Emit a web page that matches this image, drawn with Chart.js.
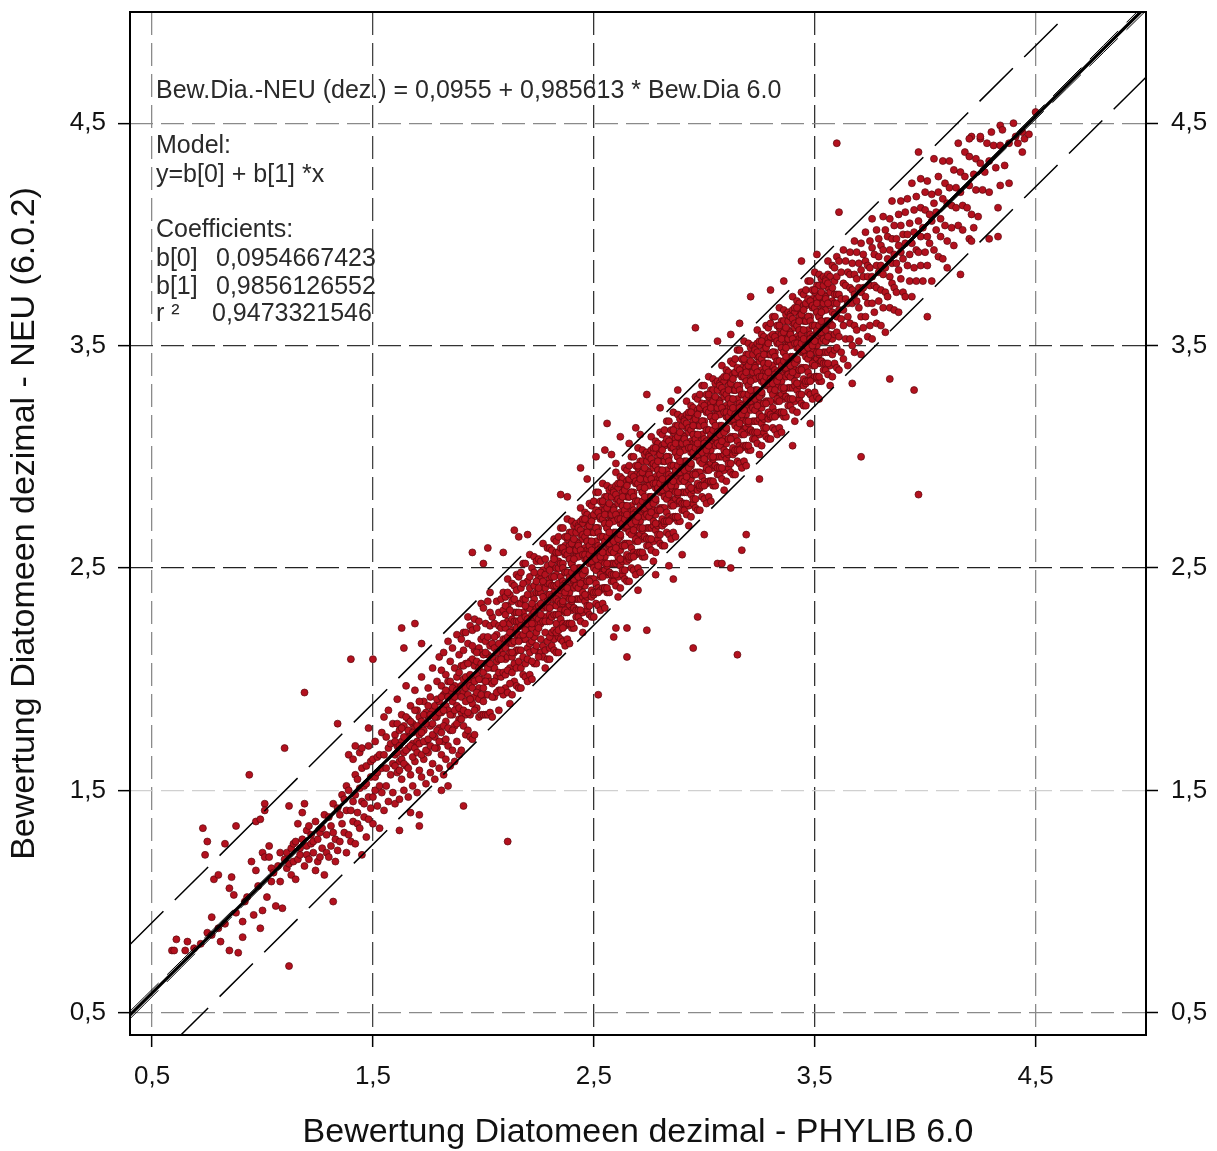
<!DOCTYPE html>
<html>
<head>
<meta charset="utf-8">
<script src="https://cdn.jsdelivr.net/npm/chart.js@4.4.0/dist/chart.umd.min.js"></script>
<style>
  html, body { margin: 0; padding: 0; background: #fff; }
  canvas { display: block; }
</style>
</head>
<body>
<canvas id="chart" width="1217" height="1151"></canvas>
<script>
// ================= Data =================
const axisTicks = [0.5, 1.5, 2.5, 3.5, 4.5];
const xTitle = 'Bewertung Diatomeen dezimal - PHYLIB 6.0';
const yTitle = 'Bewertung Diatomeen dezimal - NEU (6.0.2)';

// lower tail, x < 1.55
const tailPts = [
  [0.59,0.78],[0.60,0.78],[0.61,0.83],[0.65,0.78],[0.66,0.82],[0.69,0.79],[0.72,0.81],[0.73,1.33],[0.74,1.21],[0.75,0.86],
  [0.75,1.27],[0.77,0.85],[0.77,0.93],[0.78,1.10],[0.80,1.12],[0.80,0.88],[0.81,0.82],[0.83,1.26],[0.83,0.90],[0.85,0.78],
  [0.85,1.06],[0.86,1.11],[0.87,1.03],[0.88,1.34],[0.88,0.95],[0.89,0.77],[0.91,0.91],[0.91,0.84],[0.92,1.00],[0.93,1.02],
  [0.95,1.18],[0.96,0.94],[0.97,1.14],[0.97,1.36],[0.98,1.07],[0.99,1.37],[0.99,0.88],[1.00,0.96],[1.00,1.22],[1.01,1.44],
  [1.01,1.41],[1.01,1.20],[1.02,1.02],[1.03,1.25],[1.03,1.20],[1.04,1.15],[1.04,1.09],[1.05,1.13],[1.06,0.98],[1.07,1.16],
  [1.08,1.09],[1.08,1.22],[1.09,0.97],[1.10,1.19],[1.11,1.15],[1.11,1.22],[1.12,1.43],[1.12,1.17],[1.13,1.12],[1.13,1.24],
  [1.14,1.18],[1.14,1.26],[1.15,1.10],[1.15,1.27],[1.16,1.35],[1.16,1.19],[1.17,1.21],[1.17,1.24],[1.18,1.40],[1.18,1.28],
  [1.19,1.44],[1.19,1.16],[1.20,1.25],[1.20,1.32],[1.20,1.21],[1.21,1.19],[1.21,1.34],[1.22,1.30],[1.22,1.26],[1.23,1.22],
  [1.23,1.27],[1.24,1.14],[1.24,1.36],[1.25,1.28],[1.25,1.18],[1.26,1.20],[1.26,1.31],[1.27,1.33],[1.27,1.24],[1.28,1.12],
  [1.28,1.39],[1.29,1.22],[1.29,1.30],[1.30,1.38],[1.30,1.20],[1.31,1.25],[1.31,1.34],[1.32,1.31],[1.32,1.44],[1.33,1.18],
  [1.33,1.28],[1.34,1.42],[1.34,1.23],[1.35,1.27],[1.35,1.39],[1.36,1.35],[1.36,1.48],[1.37,1.46],[1.37,1.31],[1.38,1.22],
  [1.38,1.52],[1.38,1.41],[1.39,1.30],[1.39,1.66],[1.39,1.50],[1.40,1.41],[1.40,1.27],[1.41,1.64],[1.41,1.36],[1.41,1.45],
  [1.42,1.48],[1.42,1.26],[1.42,1.57],[1.42,1.70],[1.43,1.55],[1.43,1.40],[1.43,1.35],[1.44,1.67],[1.44,1.33],[1.44,1.51],
  [1.45,1.45],[1.45,1.21],[1.45,1.60],[1.45,1.69],[1.46,1.52],[1.46,1.38],[1.46,1.44],[1.47,1.61],[1.47,1.29],[1.47,1.53],
  [1.48,1.47],[1.48,1.70],[1.48,1.37],[1.48,1.78],[1.49,1.42],[1.49,1.56],[1.49,1.63],[1.50,1.35],[1.50,1.64],[1.50,1.47],
  [1.51,1.50],[1.51,1.72],[1.51,1.56],[1.52,1.43],[1.52,1.58],[1.52,1.65],[1.53,1.33],[1.53,1.66],[1.53,1.52],[1.54,1.49],
  [1.54,1.76],[1.54,1.60]
];

// x 1.55 - 2.29 : [x, [y ...]]
const rampCols = [
  [1.55,[1.41,1.66,1.83]],[1.56,[1.52,1.60,1.74]],[1.57,[1.45,1.69,1.86]],[1.58,[1.57,1.71]],[1.59,[1.49,1.62,1.80]],
  [1.60,[1.44,1.66,1.75]],[1.61,[1.58,1.70,1.91]],[1.62,[1.46,1.63,1.77]],[1.63,[1.55,1.72,1.84]],[1.64,[1.50,1.67,1.79]],
  [1.65,[1.61,1.74,1.97]],[1.66,[1.47,1.69,1.82]],[1.67,[1.57,1.76,1.88]],[1.68,[1.52,1.71,1.80]],[1.69,[1.63,1.78,1.95]],
  [1.70,[1.49,1.72,1.86]],[1.71,[1.59,1.75,1.83]],[1.72,[1.56,1.81,2.01]],[1.73,[1.64,1.77,1.90]],[1.74,[1.53,1.72,1.85]],
  [1.75,[1.67,1.83,1.96]],[1.76,[1.58,1.79,1.92]],[1.77,[1.62,1.86,2.05]],[1.78,[1.55,1.74,1.88]],[1.79,[1.69,1.83,1.99]],
  [1.80,[1.60,1.78,1.90,2.10]],[1.81,[1.66,1.85,1.97,2.04]],[1.82,[1.57,1.72,1.93,2.12]],[1.83,[1.64,1.81,1.88,2.02]],
  [1.84,[1.70,1.86,1.99,2.17]],[1.85,[1.61,1.77,1.94,2.08]],[1.86,[1.68,1.84,1.90,2.14]],[1.87,[1.63,1.79,1.97,2.05]],
  [1.88,[1.72,1.88,2.01,2.20]],[1.89,[1.66,1.82,1.93,2.11]],
  [1.90,[1.68,1.85,1.97,2.06,2.18]],[1.91,[1.79,1.94,2.00,2.13,2.21]],[1.92,[1.75,1.84,1.96,2.07,2.21]],
  [1.93,[1.77,1.93,1.99,2.16,2.28]],[1.94,[1.74,1.84,1.97,2.08,2.24]],[1.95,[1.73,1.89,2.01,2.09,2.22]],
  [1.96,[1.75,1.92,2.06,2.13,2.27]],[1.97,[1.87,2.02,2.08,2.23]],[1.98,[1.83,1.96,2.05,2.14,2.26]],
  [1.99,[1.84,2.00,2.12,2.18,2.34]],[2.00,[1.84,1.96,2.03,2.19,2.32]],[2.01,[1.84,1.93,2.07,2.17,2.25]],
  [2.02,[1.84,2.01,2.11,2.19,2.35]],[2.03,[1.85,1.99,2.15,2.24,2.39]],[2.04,[1.83,1.98,2.05,2.16,2.28]],
  [2.05,[1.92,2.05,2.14,2.25]],[2.06,[2.01,2.08,2.20,2.35]],[2.07,[1.86,1.95,2.09,2.24,2.30]],
  [2.08,[2.01,2.13,2.23,2.36]],[2.09,[1.93,2.11,2.18,2.31,2.39]],
  [2.10,[1.96,2.09,2.18,2.23,2.29,2.37]],[2.11,[1.94,2.10,2.16,2.26,2.33,2.45]],[2.12,[1.89,2.05,2.12,2.17,2.25,2.38]],
  [2.13,[1.93,2.10,2.16,2.22,2.27,2.43]],[2.14,[1.99,2.12,2.21,2.26,2.30,2.42]],[2.15,[1.97,2.13,2.20,2.26,2.30,2.47]],
  [2.16,[1.96,2.13,2.20,2.26,2.34,2.46]],[2.17,[1.96,2.13,2.19,2.27,2.34,2.48]],[2.18,[2.02,2.18,2.24,2.30,2.36,2.52]],
  [2.19,[2.01,2.18,2.25,2.28,2.36,2.52]],[2.20,[1.99,2.14,2.21,2.27,2.32,2.44]],[2.21,[2.02,2.16,2.24,2.32,2.41,2.56]],
  [2.22,[2.00,2.17,2.23,2.29,2.38,2.50]],[2.23,[2.07,2.19,2.26,2.36,2.42,2.55]],[2.24,[2.07,2.25,2.28,2.32,2.39,2.53]],
  [2.25,[2.12,2.27,2.33,2.39,2.46,2.54]],[2.26,[2.12,2.25,2.34,2.39,2.45,2.53]],[2.27,[2.10,2.26,2.32,2.42,2.49,2.61]],
  [2.28,[2.05,2.21,2.28,2.33,2.41,2.54]],[2.29,[2.09,2.26,2.32,2.38,2.43,2.59]]
];

// extra points near the line in the ramp, x 1.60 - 2.35
const rampFill = [
  [1.60,[1.61,1.72]],[1.61,[1.67,1.80]],[1.62,[1.59,1.70]],[1.63,[1.64,1.78]],[1.64,[1.62,1.74]],[1.65,[1.68,1.83]],
  [1.66,[1.60,1.77]],[1.67,[1.70,1.81]],[1.68,[1.65,1.76]],[1.69,[1.69,1.86]],[1.70,[1.67,1.79]],[1.71,[1.71,1.90]],
  [1.72,[1.66,1.76]],[1.73,[1.72,1.84]],[1.74,[1.68,1.80]],[1.75,[1.73,1.88]],[1.76,[1.70,1.84]],[1.77,[1.75,1.80]],
  [1.78,[1.69,1.83]],[1.79,[1.77,1.91]],[1.80,[1.72,1.85]],[1.81,[1.76,1.92]],[1.82,[1.79,1.86]],[1.83,[1.73,1.95]],
  [1.84,[1.78,1.92]],[1.85,[1.84,1.99]],[1.86,[1.77,1.96]],[1.87,[1.86,1.92]],[1.88,[1.80,1.95]],[1.89,[1.87,2.03]],
  [1.90,[1.82,1.92]],[1.91,[1.86,2.06]],[1.92,[1.90,2.01]],[1.93,[1.85,2.07]],[1.94,[1.91,2.02]],[1.95,[1.96,2.15]],
  [1.96,[1.86,1.99]],[1.97,[1.94,2.12]],[1.98,[1.91,2.00]],[1.99,[1.93,2.07]],[2.00,[1.90,2.11]],[2.01,[1.99,2.12]],
  [2.02,[1.93,2.05]],[2.03,[2.07,2.30]],[2.04,[1.92,2.10]],[2.05,[1.99,2.19]],[2.06,[1.94,2.12]],[2.07,[2.03,2.16]],
  [2.08,[1.95,2.09]],[2.09,[2.03,2.25]],
  [2.10,[2.02,2.14,2.33]],[2.11,[2.04,2.19,2.39]],[2.12,[1.98,2.21,2.31]],[2.13,[2.03,2.12,2.35]],[2.14,[2.07,2.17,2.36]],
  [2.15,[2.05,2.23,2.40]],[2.16,[2.08,2.17,2.30]],[2.17,[2.05,2.24,2.41]],[2.18,[2.10,2.20,2.43]],[2.19,[2.07,2.22,2.33]],
  [2.20,[2.09,2.25,2.38]],[2.21,[2.12,2.20,2.46]],[2.22,[2.08,2.25,2.34]],[2.23,[2.13,2.30,2.48]],[2.24,[2.15,2.21,2.44]],
  [2.25,[2.10,2.23,2.41]],[2.26,[2.18,2.29,2.48]],[2.27,[2.15,2.37,2.44]],[2.28,[2.13,2.26,2.47]],[2.29,[2.17,2.35,2.51]],
  [2.30,[2.14,2.29,2.45]],[2.31,[2.20,2.33,2.50]],[2.32,[2.18,2.39,2.55]],[2.33,[2.25,2.33,2.47]],[2.34,[2.19,2.38,2.53]],
  [2.35,[2.23,2.31,2.50]]
];

// dense core, x 2.30 - 3.60
const coreCols = [
  [2.30,[2.09,2.19,2.26,2.32,2.38,2.43,2.49,2.59]],[2.31,[2.15,2.21,2.28,2.37,2.42,2.46,2.52,2.58]],
  [2.32,[2.13,2.22,2.29,2.36,2.42,2.46,2.54,2.63]],[2.33,[2.12,2.21,2.29,2.36,2.42,2.50,2.57,2.62]],
  [2.34,[2.12,2.22,2.29,2.35,2.43,2.50,2.57,2.64]],[2.35,[2.18,2.27,2.34,2.40,2.46,2.52,2.59,2.68]],
  [2.36,[2.17,2.25,2.34,2.41,2.44,2.52,2.58,2.68]],[2.37,[2.15,2.24,2.30,2.37,2.43,2.48,2.56,2.60]],
  [2.38,[2.18,2.25,2.32,2.40,2.48,2.57,2.63,2.72]],[2.39,[2.16,2.25,2.33,2.39,2.45,2.54,2.60,2.66]],
  [2.40,[2.23,2.31,2.35,2.42,2.52,2.58,2.66,2.71]],[2.41,[2.23,2.32,2.41,2.44,2.48,2.55,2.61,2.69]],
  [2.42,[2.28,2.36,2.43,2.49,2.55,2.62,2.70]],[2.43,[2.28,2.36,2.41,2.50,2.55,2.61,2.69]],
  [2.44,[2.26,2.36,2.42,2.48,2.58,2.65,2.71,2.77]],[2.45,[2.21,2.30,2.37,2.44,2.49,2.57,2.63,2.70]],
  [2.46,[2.25,2.35,2.42,2.48,2.54,2.59,2.65,2.75]],[2.47,[2.31,2.37,2.44,2.53,2.58,2.62,2.68,2.74]],
  [2.48,[2.29,2.38,2.45,2.52,2.58,2.62,2.70,2.79]],[2.49,[2.28,2.37,2.45,2.52,2.58,2.66,2.73,2.78]],
  [2.50,[2.28,2.38,2.45,2.51,2.59,2.66,2.73,2.80]],[2.51,[2.34,2.43,2.50,2.56,2.62,2.68,2.75,2.84]],
  [2.52,[2.33,2.41,2.50,2.57,2.60,2.68,2.74,2.84]],[2.53,[2.31,2.40,2.46,2.53,2.59,2.64,2.72,2.76]],
  [2.54,[2.34,2.41,2.48,2.56,2.64,2.73,2.79,2.88]],[2.55,[2.32,2.41,2.49,2.55,2.61,2.70,2.76,2.82]],
  [2.56,[2.39,2.47,2.51,2.58,2.68,2.74,2.82,2.87]],[2.57,[2.39,2.48,2.57,2.60,2.64,2.71,2.77,2.85]],
  [2.58,[2.44,2.52,2.59,2.65,2.71,2.78,2.86]],[2.59,[2.44,2.52,2.57,2.66,2.71,2.77,2.85]],
  [2.60,[2.42,2.52,2.58,2.64,2.74,2.81,2.87,2.93]],[2.61,[2.37,2.46,2.53,2.60,2.65,2.73,2.79,2.86]],
  [2.62,[2.41,2.51,2.58,2.64,2.70,2.75,2.81,2.91]],[2.63,[2.47,2.53,2.60,2.69,2.74,2.78,2.84,2.90]],
  [2.64,[2.45,2.54,2.61,2.68,2.74,2.78,2.86,2.95]],[2.65,[2.44,2.53,2.61,2.68,2.74,2.82,2.89,2.94]],
  [2.66,[2.44,2.54,2.61,2.67,2.75,2.82,2.89,2.96]],[2.67,[2.50,2.59,2.66,2.72,2.78,2.84,2.91,3.00]],
  [2.68,[2.49,2.57,2.66,2.73,2.76,2.84,2.90,3.00]],[2.69,[2.47,2.56,2.62,2.69,2.75,2.80,2.88,2.92]],
  [2.70,[2.50,2.57,2.64,2.72,2.80,2.89,2.95,3.04]],[2.71,[2.48,2.57,2.65,2.71,2.77,2.86,2.92,2.98]],
  [2.72,[2.55,2.63,2.67,2.74,2.84,2.90,2.98,3.03]],[2.73,[2.55,2.64,2.73,2.76,2.80,2.87,2.93,3.01]],
  [2.74,[2.60,2.68,2.75,2.81,2.87,2.94,3.02]],[2.75,[2.60,2.68,2.73,2.82,2.87,2.93,3.01]],
  [2.76,[2.58,2.68,2.74,2.80,2.90,2.97,3.03,3.09]],[2.77,[2.53,2.62,2.69,2.76,2.81,2.89,2.95,3.02]],
  [2.78,[2.57,2.67,2.74,2.80,2.86,2.91,2.97,3.07]],[2.79,[2.63,2.69,2.76,2.85,2.90,2.94,3.00,3.06]],
  [2.80,[2.61,2.70,2.77,2.84,2.90,2.94,3.02,3.11]],[2.81,[2.60,2.69,2.77,2.84,2.90,2.98,3.05,3.10]],
  [2.82,[2.60,2.70,2.77,2.83,2.91,2.98,3.05,3.12]],[2.83,[2.66,2.75,2.82,2.88,2.94,3.00,3.07,3.16]],
  [2.84,[2.65,2.73,2.82,2.89,2.92,3.00,3.06,3.16]],[2.85,[2.63,2.72,2.78,2.85,2.91,2.96,3.04,3.08]],
  [2.86,[2.66,2.73,2.80,2.88,2.96,3.05,3.11,3.20]],[2.87,[2.64,2.73,2.81,2.87,2.93,3.02,3.08,3.14]],
  [2.88,[2.71,2.79,2.83,2.90,3.00,3.06,3.14,3.19]],[2.89,[2.71,2.80,2.89,2.92,2.96,3.03,3.09,3.17]],
  [2.90,[2.76,2.84,2.91,2.97,3.03,3.10,3.18]],[2.91,[2.76,2.84,2.89,2.98,3.03,3.09,3.17]],
  [2.92,[2.74,2.84,2.90,2.96,3.06,3.13,3.19,3.25]],[2.93,[2.69,2.78,2.85,2.92,2.97,3.05,3.11,3.18]],
  [2.94,[2.73,2.83,2.90,2.96,3.02,3.07,3.13,3.23]],[2.95,[2.79,2.85,2.92,3.01,3.06,3.10,3.16,3.22]],
  [2.96,[2.77,2.86,2.93,3.00,3.06,3.10,3.18,3.27]],[2.97,[2.76,2.85,2.93,3.00,3.06,3.14,3.21,3.26]],
  [2.98,[2.76,2.86,2.93,2.99,3.07,3.14,3.21,3.28]],[2.99,[2.82,2.91,2.98,3.04,3.10,3.16,3.23,3.32]],
  [3.00,[2.81,2.89,2.98,3.05,3.08,3.16,3.22,3.32]],[3.01,[2.79,2.88,2.94,3.01,3.07,3.12,3.20,3.24]],
  [3.02,[2.82,2.89,2.96,3.04,3.12,3.21,3.27,3.36]],[3.03,[2.80,2.89,2.97,3.03,3.09,3.18,3.24,3.30]],
  [3.04,[2.87,2.95,2.99,3.06,3.16,3.22,3.30,3.35]],[3.05,[2.87,2.96,3.05,3.08,3.12,3.19,3.25,3.33]],
  [3.06,[2.92,3.00,3.07,3.13,3.19,3.26,3.34]],[3.07,[2.92,3.00,3.05,3.14,3.19,3.25,3.33]],
  [3.08,[2.90,3.00,3.06,3.12,3.22,3.29,3.35,3.41]],[3.09,[2.85,2.94,3.01,3.08,3.13,3.21,3.27,3.34]],
  [3.10,[2.89,2.99,3.06,3.12,3.18,3.23,3.29,3.39]],[3.11,[2.95,3.01,3.08,3.17,3.22,3.26,3.32,3.38]],
  [3.12,[2.93,3.02,3.09,3.16,3.22,3.26,3.34,3.43]],[3.13,[2.92,3.01,3.09,3.16,3.22,3.30,3.37,3.42]],
  [3.14,[2.92,3.02,3.09,3.15,3.23,3.30,3.37,3.44]],[3.15,[2.98,3.07,3.14,3.20,3.26,3.32,3.39,3.48]],
  [3.16,[2.97,3.05,3.14,3.21,3.24,3.32,3.38,3.48]],[3.17,[2.95,3.04,3.10,3.17,3.23,3.28,3.36,3.40]],
  [3.18,[2.98,3.05,3.12,3.20,3.28,3.37,3.43,3.52]],[3.19,[2.96,3.05,3.13,3.19,3.25,3.34,3.40,3.46]],
  [3.20,[3.03,3.11,3.15,3.22,3.32,3.38,3.46,3.51]],[3.21,[3.03,3.12,3.21,3.24,3.28,3.35,3.41,3.49]],
  [3.22,[3.08,3.16,3.23,3.29,3.35,3.42,3.50]],[3.23,[3.08,3.16,3.21,3.30,3.35,3.41,3.49]],
  [3.24,[3.06,3.16,3.22,3.28,3.38,3.45,3.51,3.57]],[3.25,[3.01,3.10,3.17,3.24,3.29,3.37,3.43,3.50]],
  [3.26,[3.05,3.15,3.22,3.28,3.34,3.39,3.45,3.55]],[3.27,[3.11,3.17,3.24,3.33,3.38,3.42,3.48,3.54]],
  [3.28,[3.09,3.18,3.25,3.32,3.38,3.42,3.50,3.59]],[3.29,[3.08,3.17,3.25,3.32,3.38,3.46,3.53,3.58]],
  [3.30,[3.08,3.18,3.25,3.31,3.39,3.46,3.53,3.60]],[3.31,[3.13,3.22,3.29,3.35,3.41,3.47,3.54,3.63]],
  [3.32,[3.12,3.20,3.29,3.36,3.39,3.47,3.53,3.63]],[3.33,[3.10,3.19,3.25,3.32,3.38,3.43,3.51,3.55]],
  [3.34,[3.13,3.20,3.27,3.35,3.43,3.52,3.58,3.67]],[3.35,[3.11,3.20,3.28,3.34,3.40,3.49,3.55,3.61]],
  [3.36,[3.18,3.26,3.30,3.37,3.47,3.53,3.61,3.66]],[3.37,[3.18,3.27,3.36,3.39,3.43,3.50,3.56,3.64]],
  [3.38,[3.23,3.31,3.38,3.44,3.50,3.57,3.65]],[3.39,[3.23,3.31,3.36,3.45,3.50,3.56,3.64]],
  [3.40,[3.21,3.31,3.37,3.43,3.53,3.60,3.66,3.72]],[3.41,[3.16,3.25,3.32,3.39,3.44,3.52,3.58,3.65]],
  [3.42,[3.20,3.30,3.37,3.43,3.49,3.54,3.60,3.70]],[3.43,[3.26,3.32,3.39,3.48,3.53,3.57,3.63,3.69]],
  [3.44,[3.24,3.33,3.40,3.47,3.53,3.57,3.65,3.74]],[3.45,[3.23,3.32,3.40,3.47,3.53,3.61,3.68,3.73]],
  [3.46,[3.23,3.33,3.40,3.46,3.54,3.61,3.68,3.75]],[3.47,[3.29,3.38,3.45,3.51,3.57,3.63,3.70,3.79]],
  [3.48,[3.28,3.36,3.45,3.52,3.55,3.63,3.69,3.79]],[3.49,[3.26,3.35,3.41,3.48,3.54,3.59,3.67,3.71]],
  [3.50,[3.29,3.36,3.43,3.51,3.59,3.68,3.74,3.83]],[3.51,[3.27,3.36,3.44,3.50,3.56,3.65,3.71,3.77]],
  [3.52,[3.34,3.42,3.46,3.53,3.63,3.69,3.77,3.82]],[3.53,[3.34,3.43,3.52,3.55,3.59,3.66,3.72,3.80]],
  [3.54,[3.39,3.47,3.54,3.60,3.66,3.73,3.81]],[3.55,[3.39,3.47,3.52,3.61,3.66,3.72,3.80]],
  [3.56,[3.37,3.47,3.53,3.59,3.69,3.76,3.82,3.88]],[3.57,[3.32,3.41,3.48,3.55,3.60,3.68,3.74,3.81]],
  [3.58,[3.36,3.46,3.53,3.59,3.65,3.70,3.76,3.86]],[3.59,[3.42,3.48,3.55,3.64,3.69,3.73,3.79,3.85]],
  [3.60,[3.40,3.49,3.56,3.63,3.69,3.73,3.81,3.90]]
];

// extra points packed inside the densest part of the cloud, x 2.36 - 3.56
const coreFill = [
  [2.36,[2.23,2.35,2.42,2.50,2.59]],[2.37,[2.31,2.39,2.48,2.57,2.64]],[2.38,[2.30,2.41,2.48,2.56,2.64]],
  [2.39,[2.25,2.36,2.46,2.54,2.58]],[2.40,[2.25,2.36,2.48,2.52,2.61]],[2.41,[2.32,2.45,2.50,2.54,2.63]],
  [2.42,[2.31,2.42,2.47,2.58,2.66]],[2.43,[2.31,2.41,2.46,2.60,2.68]],[2.44,[2.31,2.43,2.50,2.58,2.67]],
  [2.45,[2.39,2.47,2.56,2.65,2.72]],[2.46,[2.38,2.49,2.56,2.64,2.72]],[2.47,[2.33,2.44,2.54,2.62,2.66]],
  [2.48,[2.33,2.44,2.56,2.60,2.69]],[2.49,[2.40,2.53,2.58,2.62,2.71]],[2.50,[2.39,2.50,2.55,2.66,2.74]],
  [2.51,[2.39,2.49,2.54,2.68,2.76]],[2.52,[2.39,2.51,2.58,2.66,2.75]],[2.53,[2.47,2.55,2.64,2.73,2.80]],
  [2.54,[2.46,2.57,2.64,2.72,2.80]],[2.55,[2.41,2.52,2.62,2.70,2.74]],[2.56,[2.41,2.52,2.64,2.68,2.77]],
  [2.57,[2.48,2.61,2.66,2.70,2.79]],[2.58,[2.47,2.58,2.63,2.74,2.82]],[2.59,[2.47,2.57,2.62,2.76,2.84]],
  [2.60,[2.47,2.59,2.66,2.74,2.83]],[2.61,[2.55,2.63,2.72,2.81,2.88]],[2.62,[2.54,2.65,2.72,2.80,2.88]],
  [2.63,[2.49,2.60,2.70,2.78,2.82]],[2.64,[2.49,2.60,2.72,2.76,2.85]],[2.65,[2.56,2.69,2.74,2.78,2.87]],
  [2.66,[2.55,2.66,2.71,2.82,2.90]],[2.67,[2.55,2.65,2.70,2.84,2.92]],[2.68,[2.55,2.67,2.74,2.82,2.91]],
  [2.69,[2.63,2.71,2.80,2.89,2.96]],[2.70,[2.62,2.73,2.80,2.88,2.96]],[2.71,[2.57,2.68,2.78,2.86,2.90]],
  [2.72,[2.57,2.68,2.80,2.84,2.93]],[2.73,[2.64,2.77,2.82,2.86,2.95]],[2.74,[2.63,2.74,2.79,2.90,2.98]],
  [2.75,[2.63,2.73,2.78,2.92,3.00]],[2.76,[2.63,2.75,2.82,2.90,2.99]],[2.77,[2.71,2.79,2.88,2.97,3.04]],
  [2.78,[2.70,2.81,2.88,2.96,3.04]],[2.79,[2.65,2.76,2.86,2.94,2.98]],[2.80,[2.65,2.76,2.88,2.92,3.01]],
  [2.81,[2.72,2.85,2.90,2.94,3.03]],[2.82,[2.71,2.82,2.87,2.98,3.06]],[2.83,[2.71,2.81,2.86,3.00,3.08]],
  [2.84,[2.71,2.83,2.90,2.98,3.07]],[2.85,[2.79,2.87,2.96,3.05,3.12]],[2.86,[2.78,2.89,2.96,3.04,3.12]],
  [2.87,[2.73,2.84,2.94,3.02,3.06]],[2.88,[2.73,2.84,2.96,3.00,3.09]],[2.89,[2.80,2.93,2.98,3.02,3.11]],
  [2.90,[2.79,2.90,2.95,3.06,3.14]],[2.91,[2.79,2.89,2.94,3.08,3.16]],[2.92,[2.79,2.91,2.98,3.06,3.15]],
  [2.93,[2.87,2.95,3.04,3.13,3.20]],[2.94,[2.86,2.97,3.04,3.12,3.20]],[2.95,[2.81,2.92,3.02,3.10,3.14]],
  [2.96,[2.81,2.92,3.04,3.08,3.17]],[2.97,[2.88,3.01,3.06,3.10,3.19]],[2.98,[2.87,2.98,3.03,3.14,3.22]],
  [2.99,[2.87,2.97,3.02,3.16,3.24]],[3.00,[2.87,2.99,3.06,3.14,3.23]],[3.01,[2.95,3.03,3.12,3.21,3.28]],
  [3.02,[2.94,3.05,3.12,3.20,3.28]],[3.03,[2.89,3.00,3.10,3.18,3.22]],[3.04,[2.89,3.00,3.12,3.16,3.25]],
  [3.05,[2.96,3.09,3.14,3.18,3.27]],[3.06,[2.95,3.06,3.11,3.22,3.30]],[3.07,[2.95,3.05,3.10,3.24,3.32]],
  [3.08,[2.95,3.07,3.14,3.22,3.31]],[3.09,[3.03,3.11,3.20,3.29,3.36]],[3.10,[3.02,3.13,3.20,3.28,3.36]],
  [3.11,[2.97,3.08,3.18,3.26,3.30]],[3.12,[2.97,3.08,3.20,3.24,3.33]],[3.13,[3.04,3.17,3.22,3.26,3.35]],
  [3.14,[3.03,3.14,3.19,3.30,3.38]],[3.15,[3.03,3.13,3.18,3.32,3.40]],[3.16,[3.03,3.15,3.22,3.30,3.39]],
  [3.17,[3.11,3.19,3.28,3.37,3.44]],[3.18,[3.10,3.21,3.28,3.36,3.44]],[3.19,[3.05,3.16,3.26,3.34,3.38]],
  [3.20,[3.05,3.16,3.28,3.32,3.41]],[3.21,[3.12,3.25,3.30,3.34,3.43]],[3.22,[3.11,3.22,3.27,3.38,3.46]],
  [3.23,[3.11,3.21,3.26,3.40,3.48]],[3.24,[3.11,3.23,3.30,3.38,3.47]],[3.25,[3.19,3.27,3.36,3.45,3.52]],
  [3.26,[3.18,3.29,3.36,3.44,3.52]],[3.27,[3.13,3.24,3.34,3.42,3.46]],[3.28,[3.13,3.24,3.36,3.40,3.49]],
  [3.29,[3.20,3.33,3.38,3.42,3.51]],[3.30,[3.19,3.30,3.35,3.46,3.54]],[3.31,[3.18,3.28,3.33,3.47,3.55]],
  [3.32,[3.18,3.30,3.37,3.45,3.54]],[3.33,[3.26,3.34,3.43,3.52,3.59]],[3.34,[3.25,3.36,3.43,3.51,3.59]],
  [3.35,[3.20,3.31,3.41,3.49,3.53]],[3.36,[3.20,3.31,3.43,3.47,3.56]],[3.37,[3.27,3.40,3.45,3.49,3.58]],
  [3.38,[3.26,3.37,3.42,3.53,3.61]],[3.39,[3.26,3.36,3.41,3.55,3.63]],[3.40,[3.26,3.38,3.45,3.53,3.62]],
  [3.41,[3.34,3.42,3.51,3.60,3.67]],[3.42,[3.33,3.44,3.51,3.59,3.67]],[3.43,[3.28,3.39,3.49,3.57,3.61]],
  [3.44,[3.28,3.39,3.51,3.55,3.64]],[3.45,[3.35,3.48,3.53,3.57,3.66]],[3.46,[3.34,3.45,3.50,3.61,3.69]],
  [3.47,[3.34,3.44,3.49,3.63,3.71]],[3.48,[3.34,3.46,3.53,3.61,3.70]],[3.49,[3.42,3.50,3.59,3.68,3.75]],
  [3.50,[3.41,3.52,3.59,3.67,3.75]],[3.51,[3.36,3.47,3.57,3.65,3.69]],[3.52,[3.36,3.47,3.59,3.63,3.72]],
  [3.53,[3.43,3.56,3.61,3.65,3.74]],[3.54,[3.42,3.53,3.58,3.69,3.77]],[3.55,[3.42,3.52,3.57,3.71,3.79]],
  [3.56,[3.42,3.54,3.61,3.69,3.78]]
];

// upper end, x 3.61 - 4.44
const upperCols = [
  [3.61,[3.39,3.54,3.66,3.73,3.88]],[3.62,[3.47,3.62,3.71,3.83]],[3.63,[3.44,3.59,3.66,3.78,3.93]],
  [3.64,[3.53,3.71,3.77,3.88]],[3.65,[3.41,3.63,3.69,3.83]],[3.66,[3.53,3.60,3.76,3.82,3.92]],
  [3.67,[3.50,3.69,3.75,3.87]],[3.68,[3.47,3.59,3.73,3.82,3.97]],[3.69,[3.57,3.70,3.80,3.92]],
  [3.70,[3.52,3.67,3.76,3.87]],[3.71,[3.46,3.63,3.74,3.84,3.96]],[3.72,[3.58,3.76,3.81,3.91]],
  [3.73,[3.63,3.72,3.88,4.01]],[3.74,[3.54,3.69,3.81,3.86]],[3.75,[3.59,3.77,3.85,3.97]],
  [3.76,[3.53,3.69,3.81,3.94,4.07]],[3.77,[3.65,3.77,3.91]],[3.78,[3.60,3.76,3.86,4.02]],
  [3.79,[3.70,3.83,3.90,3.98]],[3.80,[3.59,3.75,3.86,3.95]],[3.81,[3.67,3.82,3.93,4.08]],
  [3.82,[3.56,3.74,3.85,4.02]],[3.83,[3.72,3.89,3.99]],[3.84,[3.67,3.81,3.93,4.07]],
  [3.85,[3.78,3.87,3.98,4.15]],[3.86,[3.66,3.76,3.91,4.04]],[3.87,[3.74,3.87,3.98]],
  [3.88,[3.65,3.84,3.95,4.09]],[3.89,[3.80,3.92,4.04,4.15]],[3.90,[3.74,3.89,4.00]],
  [3.91,[3.72,3.96,4.10]],[3.92,[3.86,4.00,4.16]],[3.93,[3.79,3.91,4.05]],[3.94,[3.72,3.96,4.23]],
  [3.95,[3.85,4.01,4.11]],[3.96,[3.79,3.93,4.17]],[3.97,[3.92,4.06]],[3.98,[3.86,3.99,4.12,4.25]],
  [3.99,[3.79,4.03]],[4.00,[3.92,4.11,4.19]],[4.01,[3.86,3.99,4.24]],[4.02,[3.96,4.09]],
  [4.03,[3.79,4.06,4.18]],[4.04,[3.93,4.14,4.34]],[4.05,[4.02,4.10]],[4.06,[3.90,4.19,4.26]],
  [4.07,[3.99,4.07]],[4.08,[3.89,4.16,4.33]],[4.09,[4.04,4.23]],[4.10,[3.97,4.14]],[4.11,[4.21,4.33]],
  [4.12,[4.03,4.13]],[4.13,[3.95,4.29]],[4.14,[4.12,4.21]],[4.15,[4.04,4.41]],[4.16,[4.19,4.28]],
  [4.17,[4.02,4.13]],[4.18,[4.26,4.37]],[4.19,[4.12]],[4.20,[4.22,4.35]],[4.21,[4.09,4.44]],[4.22,[4.27]],
  [4.23,[4.20,4.34]],[4.24,[4.08]],[4.25,[4.32,4.43]],[4.26,[4.20]],[4.27,[4.28]],[4.28,[4.41]],
  [4.29,[4.19,4.33]],[4.31,[4.40]],[4.32,[4.30]],[4.34,[4.40,4.49]],[4.36,[4.31]],[4.38,[4.41]],
  [4.40,[4.50]],[4.42,[4.41]],[4.44,[4.46]]
];

// isolated points off the main band
const strayPts = [
  [0.94,1.57],[1.10,1.69],[1.19,1.94],[1.34,1.80],[1.40,2.09],[1.50,2.09],[1.63,2.23],[1.69,2.25],[1.64,2.14],[1.72,2.16],
  [1.95,2.57],[2.02,2.59],[2.09,2.57],[2.00,2.52],[2.14,2.67],[2.16,2.64],[2.20,2.65],[2.35,2.83],[2.38,2.82],[2.44,2.95],
  [2.47,2.90],[2.51,3.00],[2.55,3.03],[2.56,3.15],[2.58,3.01],[2.60,2.97],[2.62,3.09],[2.66,3.06],[2.69,3.13],[2.71,3.10],
  [2.74,3.28],[2.80,3.22],[2.85,3.25],[2.88,3.30],[2.96,3.58],[3.06,3.52],[3.12,3.55],[3.16,3.60],[3.21,3.72],[3.30,3.75],
  [3.36,3.79],[3.44,3.88],[3.51,3.91],[3.60,4.41],[3.61,4.10],[3.97,4.37],[4.20,4.43],[4.25,4.44],[4.30,4.46],[4.35,4.47],
  [4.41,4.44],[4.45,4.43],[4.47,4.45],[4.50,4.55],[4.44,4.37],
  [1.12,0.71],[1.32,1.00],[1.62,1.32],[1.67,1.40],[1.71,1.34],[1.71,1.39],[1.91,1.43],[1.84,1.52],[1.81,1.50],[2.11,1.27],
  [2.52,1.93],[2.60,2.23],[2.59,2.19],[2.65,2.10],[2.65,2.23],[2.74,2.22],[2.86,2.45],[2.95,2.14],[2.97,2.28],[3.06,2.52],
  [3.08,2.52],[3.12,2.50],[3.15,2.11],[3.17,2.58],[3.19,2.65],[3.52,3.26],[3.67,3.33],[3.71,3.00],[3.84,3.35],[3.95,3.30],
  [3.97,2.83],[4.01,3.63],[4.16,3.82],[4.20,3.98],[4.29,3.98],[4.33,3.99],[4.33,4.12],[4.38,4.23],[4.34,4.22],[4.22,4.03],
  [4.21,3.97],[4.10,3.85],[2.70,2.40],[2.78,2.47],[2.84,2.51],[2.90,2.56],[3.00,2.65],[3.25,2.90],[3.40,3.05],[3.48,3.15]
];

// fitted line, confidence band and prediction band (end / support values)
const fitX = [0.4, 5.0];
const fitY = [0.490, 5.024];
const predUpper = [0.807, 5.341];
const predLower = [0.173, 4.707];
const confX = [0.4, 1.5, 2.7, 3.9, 5.0];
const confUpper = [0.507, 1.582, 2.761, 3.947, 5.041];
const confLower = [0.473, 1.566, 2.753, 3.931, 5.006];

const noteLines = ['Bew.Dia.-NEU (dez.) = 0,0955 + 0,985613 * Bew.Dia 6.0', 'Model:', 'y=b[0] + b[1] *x', 'Coefficients:'];
const coefRows = [['b[0]', '0,0954667423'], ['b[1]', '0,9856126552'], ['r \u00b2', '0,9473321546']];

// ================= Styles =================
const FONT = '"Liberation Sans", Arial, sans-serif';
const gridShadeX = ['#8a8a8a', '#444444', '#333333', '#333333', '#8a8a8a'];
const gridShadeY = ['#8a8a8a', '#d0d0d0', '#222222', '#333333', '#8a8a8a'];

// ================= Helpers =================
function colsToPoints(cols) {
    return cols.flatMap(([x, ys]) => ys.map(y => ({ x, y })));
}
function pairsToPoints(pairs) {
    return pairs.map(([x, y]) => ({ x, y }));
}
function zipPoints(xs, ys) {
    return xs.map((x, i) => ({ x, y: ys[i] }));
}
function fmt(v) {
    return v.toFixed(1).replace('.', ',');
}
function setTicks(scale) {
    scale.ticks = axisTicks.map(v => ({ value: v }));
}
function shade(list) {
    return c => (c.tick ? list[axisTicks.indexOf(c.tick.value)] || '#555' : '#555');
}
// fixed axis boxes so the plot frame lands where the original has it
function fitVertical(width) {
    return s => { s.width = width; s.paddingTop = 0; s.paddingBottom = 0; };
}

const scatterPts = [
    ...pairsToPoints(tailPts),
    ...colsToPoints(rampCols),
    ...colsToPoints(rampFill),
    ...colsToPoints(coreCols),
    ...colsToPoints(coreFill),
    ...colsToPoints(upperCols),
    ...pairsToPoints(strayPts)
];

function lineSet(data, width, dash) {
    return {
        data, showLine: true, borderColor: '#000', borderWidth: width, borderDash: dash,
        pointRadius: 0, fill: false, clip: 0, order: 0, tension: 0.4
    };
}

// ================= Plugins =================
const framePlugin = {
    id: 'frame',
    afterDatasetsDraw(chart) {
        const { ctx, chartArea: a } = chart;
        ctx.save();
        ctx.font = '25px ' + FONT;
        ctx.fillStyle = '#2a2a2a';
        ctx.textBaseline = 'alphabetic';
        const lx = a.left + 26;
        const lineOffsets = [86, 141, 170, 225];
        noteLines.forEach((t, i) => ctx.fillText(t, lx, a.top + lineOffsets[i]));
        const rowOffsets = [254, 282, 309];
        coefRows.forEach((r, i) => {
            ctx.fillText(r[0], lx, a.top + rowOffsets[i]);
            ctx.fillText(r[1], a.left + (i === 2 ? 82 : 86), a.top + rowOffsets[i]);
        });
        ctx.strokeStyle = '#000';
        ctx.lineWidth = 2;
        ctx.strokeRect(a.left, a.top, a.right - a.left, a.bottom - a.top);
        ctx.restore();
    }
};

// ================= Chart =================
const tickFont = { family: FONT, size: 26 };
const titleFont = { family: FONT, size: 34, lineHeight: 1 };

new Chart(document.getElementById('chart'), {
    type: 'scatter',
    data: {
        datasets: [
            lineSet(zipPoints(fitX, fitY), 3.2, []),
            lineSet(zipPoints(confX, confUpper), 1, [40, 12]),
            lineSet(zipPoints(confX, confLower), 1, [40, 12]),
            lineSet(zipPoints(fitX, predUpper), 1.5, [47, 16]),
            lineSet(zipPoints(fitX, predLower), 1.5, [47, 16]),
            {
                data: scatterPts,
                backgroundColor: '#b3111e',
                borderColor: '#5a070d',
                borderWidth: 0.7,
                pointRadius: 3.5,
                order: 5
            }
        ]
    },
    options: {
        responsive: false,
        animation: false,
        layout: { padding: { top: 12, left: 0, right: 0, bottom: 0 } },
        plugins: { legend: { display: false }, tooltip: { enabled: false } },
        scales: {
            x: {
                type: 'linear', min: 0.4, max: 5.0,
                afterBuildTicks: setTicks,
                afterFit: s => { s.height = 116; s.paddingLeft = 0; s.paddingRight = 0; },
                ticks: { font: tickFont, color: '#111', padding: 14, maxRotation: 0, autoSkip: false, callback: fmt },
                grid: { color: shade(gridShadeX), lineWidth: 1.3, tickColor: '#000', tickLength: 12, tickWidth: 1.5, tickBorderDash: [] },
                border: { display: false, dash: [23, 8] },
                title: { display: true, text: xTitle, font: titleFont, color: '#111', padding: { top: 0, bottom: 1 } }
            },
            y: {
                type: 'linear', position: 'left', min: 0.4, max: 5.0,
                afterBuildTicks: setTicks,
                afterFit: fitVertical(130),
                ticks: { font: tickFont, color: '#111', padding: 12, autoSkip: false, callback: fmt },
                grid: { color: shade(gridShadeY), lineWidth: 1.3, tickColor: '#000', tickLength: 12, tickWidth: 1.5, tickBorderDash: [] },
                border: { display: false, dash: [23, 8] },
                title: { display: true, text: yTitle, font: titleFont, color: '#111', padding: { top: 8, bottom: 0 } }
            },
            y2: {
                type: 'linear', position: 'right', min: 0.4, max: 5.0,
                afterBuildTicks: setTicks,
                afterFit: fitVertical(71),
                ticks: { font: tickFont, color: '#111', padding: 13, autoSkip: false, callback: fmt },
                grid: { drawOnChartArea: false, drawTicks: true, tickColor: '#000', tickLength: 12, tickWidth: 1.5 },
                border: { display: false }
            }
        }
    },
    plugins: [framePlugin]
});
</script>
</body>
</html>
